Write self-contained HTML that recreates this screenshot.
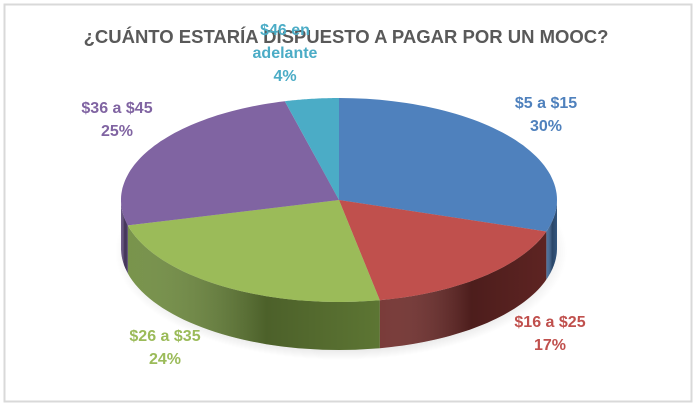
<!DOCTYPE html>
<html><head><meta charset="utf-8"><style>
body{margin:0;background:#fff;width:699px;height:410px;overflow:hidden}
svg{display:block}
text{font-family:"Liberation Sans",sans-serif;font-weight:bold}
</style></head><body>
<svg id="chart" width="699" height="410" viewBox="0 0 699 410">
<defs>
<radialGradient id="shadow" cx="50%" cy="50%" r="50%"><stop offset="80%" stop-color="#000" stop-opacity="0.18"/><stop offset="100%" stop-color="#000" stop-opacity="0"/></radialGradient>
<linearGradient id="sideShade" x1="0" x2="1" y1="0" y2="0"><stop offset="0" stop-color="#fff" stop-opacity="0.08"/><stop offset="0.55" stop-color="#000" stop-opacity="0.3"/><stop offset="1" stop-color="#000" stop-opacity="0.15"/></linearGradient>
</defs>
<rect x="4.5" y="4.5" width="687" height="397" fill="#fff" stroke="#d9d9d9" stroke-width="2"/>
<ellipse cx="341" cy="252" rx="226" ry="108" fill="url(#shadow)"/>
<g id="slices"></g>
<text x="346" y="43" text-anchor="middle" font-size="18.5" fill="#595959">¿CUÁNTO ESTARÍA DISPUESTO A PAGAR POR UN MOOC?</text>
<g id="labels"></g>
</svg>
<script>
const categories = ["$5 a $15", "$16 a $25", "$26 a $35", "$36 a $45", "$46 en adelante"];
const values = [30, 17, 24, 25, 4];
const topColors = ["#4f81bd", "#c0504d", "#9bbb59", "#8064a2", "#4bacc6"];
const sideColors = ["#3c6494", "#6e2a28", "#6d8a3c", "#5e4a7c", "#31879c"];
const labelColors = ["#4f81bd", "#c0504d", "#9bbb59", "#8064a2", "#4bacc6"];
const labelPos = [[546,108,"middle"],[550,327,"middle"],[165,341,"middle"],[117,113,"middle"],[285,35,"middle"]];

const cx = 339, cy = 200, rx = 218, ry = 102, depth = 48;
const NS = "http://www.w3.org/2000/svg";
function pt(t, dy){ return [cx + rx*Math.sin(t), cy - ry*Math.cos(t) + (dy||0)]; }
function arc(a0, a1, dy, n){ const out=[]; for(let i=0;i<=n;i++){ const t=a0+(a1-a0)*i/n; out.push(pt(t,dy)); } return out; }
const total = values.reduce((a,b)=>a+b,0);
const g = document.getElementById("slices");
let start = 0;
const angles = values.map(v=>{ const a0=start; start += v/total*2*Math.PI; return [a0,start]; });
angles.forEach(([a0,a1],i)=>{
  const s = Math.max(a0, Math.PI/2), e = Math.min(a1, 3*Math.PI/2);
  if (e <= s) return;
  const topA = arc(s,e,0,40), botA = arc(e,s,depth,40);
  const d = "M"+topA.concat(botA).map(p=>p[0].toFixed(1)+","+p[1].toFixed(1)).join("L")+"Z";
  const p = document.createElementNS(NS,"path");
  p.setAttribute("d", d); p.setAttribute("fill", sideColors[i]);
  
  
  g.appendChild(p);
  const p2 = document.createElementNS(NS,"path");
  p2.setAttribute("d", d); p2.setAttribute("fill", "url(#sideShade)");
  
  
  g.appendChild(p2);
});
angles.forEach(([a0,a1],i)=>{
  const pts = arc(a0,a1,0,60);
  const d = "M"+cx+","+cy+"L"+pts.map(p=>p[0].toFixed(1)+","+p[1].toFixed(1)).join("L")+"Z";
  const p = document.createElementNS(NS,"path");
  p.setAttribute("d", d); p.setAttribute("fill", topColors[i]);
  
  
  g.appendChild(p);
});
const lg = document.getElementById("labels");
values.forEach((v,i)=>{
  const [x,y,anc] = labelPos[i];
  let lines = [categories[i], v + "%"];
  if (i===4) lines = ["$46 en", "adelante", v + "%"];
  lines.forEach((txt,j)=>{
    const t = document.createElementNS(NS,"text");
    t.setAttribute("x", x); t.setAttribute("y", y + j*23);
    t.setAttribute("text-anchor", anc); t.setAttribute("font-size", "16");
    t.setAttribute("fill", labelColors[i]);
    
    
    t.textContent = txt;
    lg.appendChild(t);
  });
});
</script>
</body></html>
